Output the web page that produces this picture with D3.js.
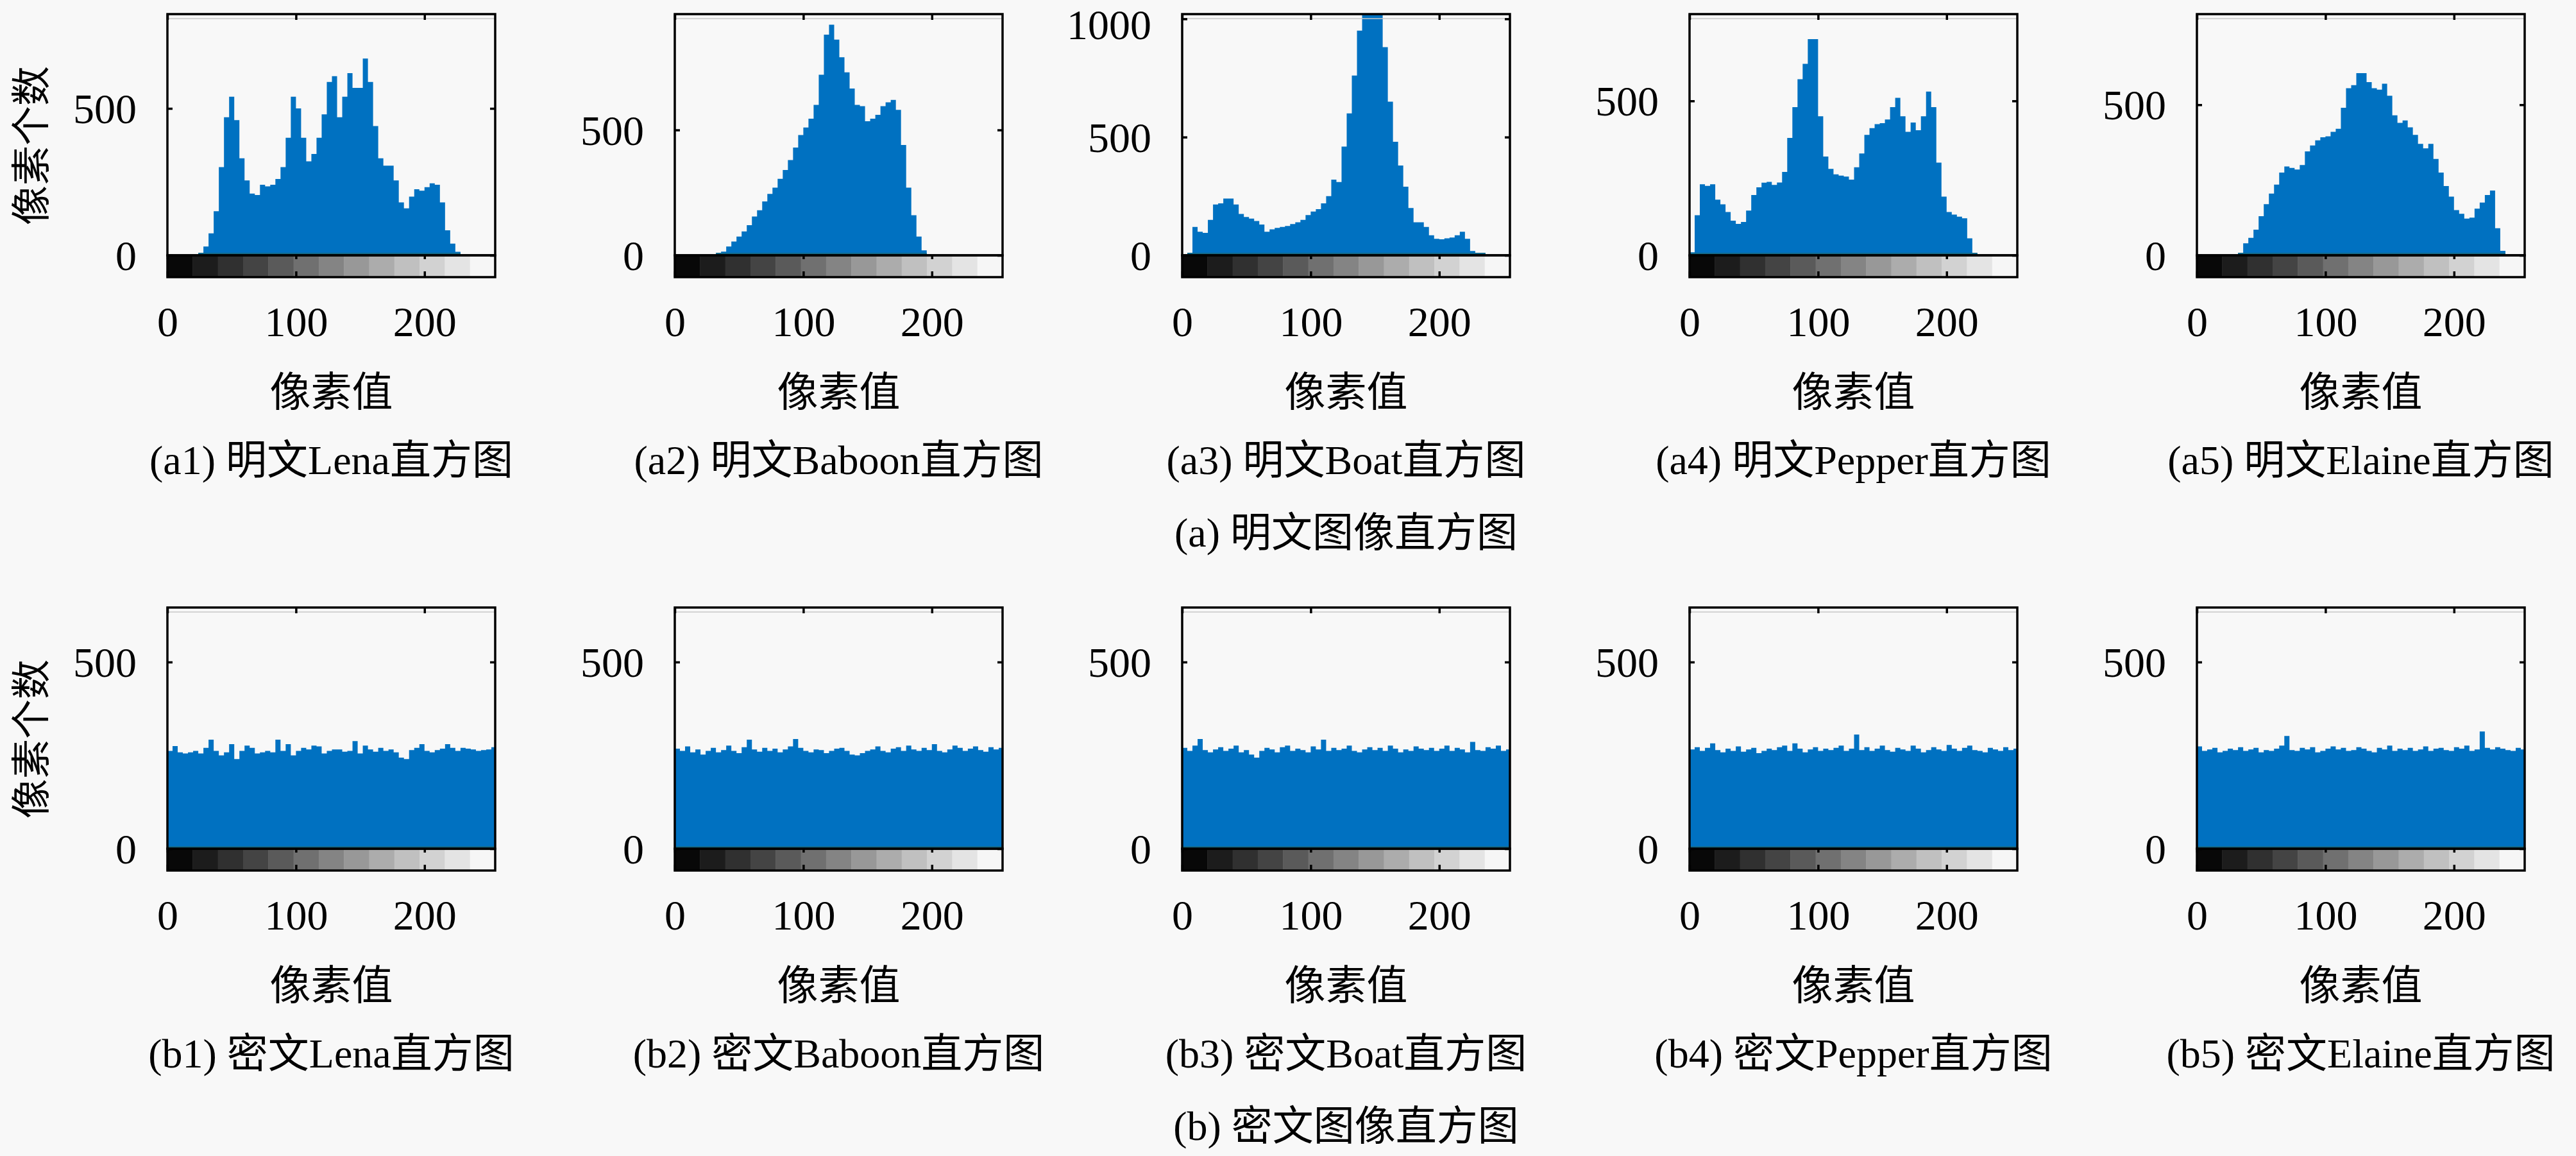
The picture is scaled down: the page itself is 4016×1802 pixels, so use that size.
<!DOCTYPE html>
<html>
<head>
<meta charset="utf-8">
<script src="https://cdn.jsdelivr.net/npm/d3@7"></script>
<style>
  body { margin: 0; background: #f8f8f8; }
</style>
</head>
<body>
<div id="chart"></div>
<script>
// names / labels
const imageNames = ["Lena", "Baboon", "Boat", "Pepper", "Elaine"];
const rowKinds = ["明文", "密文"];
const rowLetters = ["a", "b"];
const groupTitles = ["(a) 明文图像直方图", "(b) 密文图像直方图"];
const xTickValues = [0, 100, 200];
const binWidth = 4; // every value below covers 4 grey levels (64 bins for 0..255)

// plaintext histograms
const lenaPlain = [0,0,0,0,0,0,5,30,75,150,300,470,540,460,330,255,210,205,240,235,240,260,300,400,540,500,400,320,345,400,480,590,610,470,540,620,570,570,670,590,440,330,305,305,255,180,160,200,225,220,232,245,240,180,85,40,12,0,0,0,0,0,0,0];
const baboonPlain = [0,0,0,0,0,0,0,0,3,15,35,55,75,95,120,155,180,215,245,270,305,340,380,430,480,510,545,600,720,880,920,860,790,730,665,600,595,535,545,560,595,610,620,580,440,270,160,75,20,0,0,0,0,0,0,0,0,0,0,0,0,0,0,0];
const boatPlain = [0,10,120,100,95,150,215,220,240,240,215,175,162,155,145,130,100,110,116,120,124,132,140,150,170,185,195,220,250,320,310,460,600,760,950,1100,1200,1200,1100,880,650,480,380,290,200,140,140,120,85,70,68,72,75,85,100,70,18,6,2,0,0,0,0,0];
const pepperPlain = [10,130,230,225,230,180,165,140,112,102,108,145,195,220,235,238,228,236,270,380,480,570,620,700,700,450,320,280,262,258,255,245,285,330,390,412,425,428,440,480,510,450,400,430,405,450,530,480,300,190,140,132,125,120,55,5,0,0,0,0,0,0,0,0];
const elainePlain = [0,0,0,0,0,0,0,0,8,40,58,85,130,170,205,235,275,295,290,285,300,345,365,382,392,395,410,420,490,555,565,605,605,575,555,550,570,530,465,440,448,425,400,370,355,370,320,275,230,195,150,138,122,125,155,175,200,215,90,15,0,0,0,0];

// ciphertext histograms (nearly flat around 256)
const lenaCipher = [262,275,258,255,258,262,255,270,292,262,250,258,280,240,262,276,270,255,258,262,258,292,262,280,250,262,270,266,276,274,255,262,266,266,260,262,288,255,276,266,260,270,262,266,258,244,240,264,270,280,262,258,264,268,280,270,262,270,268,266,262,264,266,272];
const baboonCipher = [268,262,274,258,266,252,262,270,258,264,276,262,256,272,292,266,260,270,262,268,258,266,274,294,270,262,258,266,264,256,262,268,270,262,252,250,256,262,266,274,262,258,268,272,262,276,266,262,270,264,280,262,258,266,276,270,262,268,274,264,260,272,266,270];
const boatCipher = [270,262,276,294,264,258,266,272,262,268,276,258,264,252,244,262,270,266,258,272,276,262,268,264,258,274,266,292,262,270,264,268,276,262,258,266,272,264,270,262,276,268,258,266,262,274,268,264,270,262,268,276,262,270,266,258,286,264,262,272,268,276,262,266];
const pepperCipher = [266,272,262,270,282,264,258,268,262,274,260,266,270,256,262,268,264,272,276,262,282,268,258,266,272,262,268,264,270,276,262,268,306,264,272,262,268,276,264,260,270,266,262,276,268,258,264,272,266,262,278,268,262,270,276,264,262,258,270,266,262,272,264,268];
const elaineCipher = [274,262,266,270,258,262,268,264,272,262,266,270,258,264,262,268,276,302,264,262,270,266,272,258,262,268,274,266,270,262,264,272,268,262,258,270,266,276,262,268,264,270,262,266,274,262,268,270,264,262,272,268,276,262,266,314,270,266,272,268,264,262,270,266];

// y-axis upper limits and ticks of each panel
const plainYMax = [821, 962, 1020, 781, 801];
const cipherYMax = [646, 646, 646, 646, 646];
const plainYTicks = [[0, 500], [0, 500], [0, 500, 1000], [0, 500], [0, 500]];
const cipherYTicks = [[0, 500], [0, 500], [0, 500], [0, 500], [0, 500]];

// grey steps of the colour strip under each histogram
const grayBlocks = [8, 28, 48, 68, 90, 112, 132, 152, 172, 192, 210, 228, 246];

const rows = [
    { hists: [lenaPlain, baboonPlain, boatPlain, pepperPlain, elainePlain], yMax: plainYMax, yTicks: plainYTicks },
    { hists: [lenaCipher, baboonCipher, boatCipher, pepperCipher, elaineCipher], yMax: cipherYMax, yTicks: cipherYTicks }
];

const W = 4016, H = 1802;
const panelLeft0 = 261, panelStep = 791, panelW = 511;
const rowTops = [22, 947];
const histH = 376, cbH = 34;

const numFont = "'Liberation Serif', 'Noto Sans CJK SC', serif";
const cjkFont = "'Noto Sans CJK SC', sans-serif";
const barColor = "#0071c1";

const svg = d3.select("#chart").append("svg")
    .attr("width", W)
    .attr("height", H)
    .attr("viewBox", `0 0 ${W} ${H}`);

svg.append("rect").attr("width", W).attr("height", H).attr("fill", "#f8f8f8");

const defs = svg.append("defs");

rows.forEach((row, r) => {
    const top = rowTops[r];
    const base = top + histH;
    const cbBottom = base + cbH;

    row.hists.forEach((counts, i) => {
        const left = panelLeft0 + i * panelStep;
        const x = d3.scaleLinear().domain([0, 255]).range([left, left + panelW]);
        const y = d3.scaleLinear().domain([0, row.yMax[i]]).range([base, top]);
        const g = svg.append("g");

        // clip for the histogram area
        const clipId = `clip-${r}-${i}`;
        defs.append("clipPath").attr("id", clipId)
            .append("rect")
            .attr("x", x(0)).attr("y", y(row.yMax[i]))
            .attr("width", x(255) - x(0)).attr("height", y(0) - y(row.yMax[i]));

        const pts = counts.map((v, k) => ({ lv: k * binWidth, v: v }));
        pts.push({ lv: counts.length * binWidth, v: counts[counts.length - 1] });

        const area = d3.area()
            .curve(d3.curveStepAfter)
            .x(d => x(d.lv))
            .y0(y(0))
            .y1(d => y(d.v));

        g.append("path")
            .datum(pts)
            .attr("clip-path", `url(#${clipId})`)
            .attr("fill", barColor)
            .attr("d", area);

        // dark baseline under the non-empty range
        const nonZero = counts.map((v, k) => v > 0 ? k : -1).filter(k => k >= 0);
        if (nonZero.length) {
            g.append("line")
                .attr("x1", x(nonZero[0] * binWidth))
                .attr("x2", Math.min(x(255), x((nonZero[nonZero.length - 1] + 1) * binWidth)))
                .attr("y1", y(0) - 2).attr("y2", y(0) - 2)
                .attr("stroke", "#136a8c")
                .attr("stroke-width", 4);
        }

        // grey colour strip
        const step = 255 / grayBlocks.length;
        g.append("g").selectAll("rect")
            .data(grayBlocks)
            .join("rect")
            .attr("x", (d, k) => x(k * step))
            .attr("y", base)
            .attr("width", (d, k) => x((k + 1) * step) - x(k * step) + 0.5)
            .attr("height", cbH)
            .attr("fill", d => d3.rgb(d, d, d));

        // faint line just under the top edge
        g.append("line")
            .attr("x1", x(0)).attr("x2", x(255))
            .attr("y1", top + 7).attr("y2", top + 7)
            .attr("stroke", "#c8c8c8").attr("stroke-width", 1.5);

        // frames
        g.append("rect")
            .attr("x", x(0)).attr("y", top)
            .attr("width", x(255) - x(0)).attr("height", histH)
            .attr("fill", "none").attr("stroke", "#000").attr("stroke-width", 3.5);
        g.append("rect")
            .attr("x", x(0)).attr("y", base)
            .attr("width", x(255) - x(0)).attr("height", cbH)
            .attr("fill", "none").attr("stroke", "#000").attr("stroke-width", 3.5);

        // x ticks: inward on top edge, on the baseline, and labelled under the strip
        const xTop = g.append("g").attr("transform", `translate(0,${top})`)
            .call(d3.axisBottom(x).tickValues(xTickValues).tickSize(9).tickFormat(""));
        const xBase = g.append("g").attr("transform", `translate(0,${base})`)
            .call(d3.axisBottom(x).tickValues(xTickValues).tickSize(6).tickFormat(""));
        const xBot = g.append("g").attr("transform", `translate(0,${cbBottom})`)
            .call(d3.axisBottom(x).tickValues(xTickValues).tickSizeInner(-9).tickSizeOuter(0).tickPadding(45).tickFormat(d3.format("d")));
        xBot.selectAll("text")
            .attr("font-family", numFont).attr("font-size", 66).attr("fill", "#000");

        // y ticks left (labelled) and right
        const yL = g.append("g").attr("transform", `translate(${x(0)},0)`)
            .call(d3.axisLeft(y).tickValues(row.yTicks[i]).tickSizeInner(-8).tickSizeOuter(0).tickPadding(48).tickFormat(d3.format("d")));
        yL.selectAll("text")
            .attr("font-family", numFont).attr("font-size", 66).attr("fill", "#000")
            .attr("dy", "0.34em")
            // keep a label sitting at the very top edge inside the page
            .attr("y", d => Math.max(0, 38 - y(d)));
        const yR = g.append("g").attr("transform", `translate(${x(255)},0)`)
            .call(d3.axisRight(y).tickValues(row.yTicks[i]).tickSizeInner(-8).tickSizeOuter(0).tickFormat(""));

        [xTop, xBase, xBot, yL, yR].forEach(a => {
            a.select(".domain").remove();
            a.selectAll("line").attr("stroke", "#000").attr("stroke-width", 3.5);
        });

        const cx = (x(0) + x(255)) / 2;

        // x title
        g.append("text")
            .attr("x", cx).attr("y", cbBottom + 173)
            .attr("text-anchor", "middle").attr("dominant-baseline", "central")
            .attr("font-family", cjkFont).attr("font-size", 64)
            .text("像素值");

        // panel caption
        g.append("text")
            .attr("x", cx).attr("y", cbBottom + 285)
            .attr("text-anchor", "middle").attr("dominant-baseline", "central")
            .attr("font-family", numFont).attr("font-size", 64)
            .text(`(${rowLetters[r]}${i + 1}) ${rowKinds[r]}${imageNames[i]}直方图`);

        // group caption under the middle panel
        if (i === 2) {
            g.append("text")
                .attr("x", cx).attr("y", cbBottom + 398)
                .attr("text-anchor", "middle").attr("dominant-baseline", "central")
                .attr("font-family", numFont).attr("font-size", 64)
                .text(groupTitles[r]);
        }

        // y title for the first column
        if (i === 0) {
            const ty = (top + cbBottom) / 2;
            g.append("text")
                .attr("transform", `translate(44,${ty}) rotate(-90)`)
                .attr("text-anchor", "middle").attr("dominant-baseline", "central")
                .attr("font-family", cjkFont).attr("font-size", 62)
                .text("像素个数");
        }
    });
});
</script>
</body>
</html>
